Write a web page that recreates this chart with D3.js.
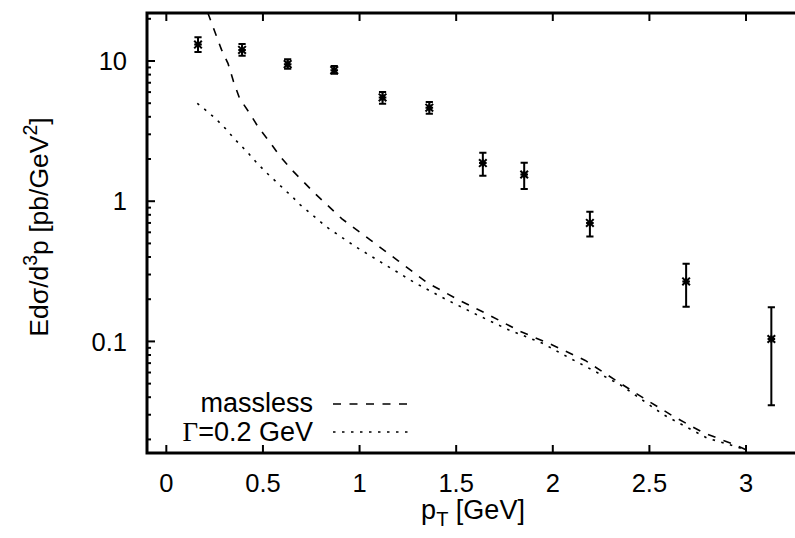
<!DOCTYPE html>
<html>
<head>
<meta charset="utf-8">
<script src="https://cdn.jsdelivr.net/npm/d3@7"></script>
<style>
	body{margin:0;background:#fff;}
	text{font-family:"Liberation Sans", Arial, sans-serif;fill:#000;}
</style>
</head>
<body>
<svg id="chart" width="795" height="538"></svg>
<script>
// measured points with error bars
let ptX = [0.164, 0.392, 0.628, 0.869, 1.119, 1.361, 1.638, 1.852, 2.192, 2.690, 3.131],
	ptY = [13.1, 12.0, 9.5, 8.6, 5.5, 4.65, 1.87, 1.55, 0.70, 0.268, 0.104],
	ptLo = [11.6, 10.9, 8.8, 8.1, 4.95, 4.2, 1.52, 1.22, 0.56, 0.177, 0.035],
	ptHi = [14.8, 13.2, 10.3, 9.2, 6.0, 5.1, 2.22, 1.88, 0.84, 0.358, 0.175];

// massless curve (dashed)
let masslessX = [0.150, 0.219, 0.285, 0.319, 0.348, 0.379, 0.431, 0.477, 0.534, 0.590, 0.650, 0.771, 0.909, 1.055, 1.200,
		1.349, 1.504, 1.667, 1.831, 1.995, 2.168, 2.314, 2.469, 2.624, 2.780, 2.952, 3.0],
	masslessY = [36.5, 21.3, 12.1, 9.63, 7.12, 5.42, 4.24, 3.35, 2.66, 2.08, 1.67, 1.128, 0.748, 0.530, 0.376,
		0.263, 0.2005, 0.155, 0.118, 0.0947, 0.0732, 0.054, 0.0395, 0.0292, 0.0223, 0.0181, 0.0169];

// Gamma = 0.2 GeV curve (dotted)
let widthX = [0.160, 0.202, 0.253, 0.305, 0.357, 0.417, 0.469, 0.521, 0.659, 0.693, 0.831, 0.978, 1.133, 1.288,
		1.444, 1.607, 1.771, 1.944, 2.055, 2.349, 2.573, 2.797, 2.969, 3.0],
	widthY = [4.99, 4.48, 3.91, 3.31, 2.74, 2.26, 1.87, 1.585, 1.051, 0.942, 0.653, 0.475, 0.352, 0.261,
		0.2005, 0.155, 0.121, 0.0974, 0.0804, 0.0491, 0.030, 0.0205, 0.0174, 0.0162];

let xTicks = [0, 0.5, 1, 1.5, 2, 2.5, 3],
	yTicks = [0.1, 1, 10],
	yTickLabels = ["0.1", "1", "10"];

let svg = d3.select("#chart"),
	plotL = 147, plotR = 804, plotT = 13, plotB = 453;

let x = d3.scaleLinear().domain([-0.1, 3.3]).range([plotL, plotR]),
	y = d3.scaleLog().domain([0.016, 22]).range([plotB, plotT]);

svg.append("defs").append("clipPath").attr("id", "plotClip")
	.append("rect").attr("x", plotL).attr("y", plotT).attr("width", plotR - plotL).attr("height", plotB - plotT);

// minor y ticks on log axis
let minorY = [];
[0.01, 0.1, 1, 10].forEach(function(d){
	for(let k = 2; k <= 9; k++){
		let v = d * k;
		if(v > 0.016 && v < 22) minorY.push(v);
	}
});

let ticks = svg.append("g").attr("stroke", "#000").attr("stroke-width", 2);
ticks.selectAll(".mx").data(xTicks).enter().append("line")
	.attr("x1", d => x(d)).attr("x2", d => x(d)).attr("y1", plotB).attr("y2", plotB - 8);
ticks.selectAll(".tx").data(xTicks).enter().append("line")
	.attr("x1", d => x(d)).attr("x2", d => x(d)).attr("y1", plotT).attr("y2", plotT + 8);
ticks.selectAll(".my").data(yTicks).enter().append("line")
	.attr("x1", plotL).attr("x2", plotL + 8).attr("y1", d => y(d)).attr("y2", d => y(d));
ticks.selectAll(".ny").data(minorY).enter().append("line")
	.attr("x1", plotL).attr("x2", plotL + 4).attr("y1", d => y(d)).attr("y2", d => y(d));

// frame
svg.append("rect").attr("x", plotL).attr("y", plotT).attr("width", plotR - plotL).attr("height", plotB - plotT)
	.attr("fill", "none").attr("stroke", "#000").attr("stroke-width", 3);

// tick labels
svg.selectAll(".xl").data(xTicks).enter().append("text")
	.attr("x", d => x(d)).attr("y", 492).attr("text-anchor", "middle")
	.style("font-size", "25.5px").text(d => d);
svg.selectAll(".yl").data(yTicks).enter().append("text")
	.attr("x", 127).attr("y", d => y(d)).attr("dy", "0.36em").attr("text-anchor", "end")
	.style("font-size", "25.5px").text((d, i) => yTickLabels[i]);

// axis titles
let xt = svg.append("text").attr("x", 473).attr("y", 519).attr("text-anchor", "middle").style("font-size", "27px");
xt.append("tspan").text("p");
xt.append("tspan").attr("dy", 7).style("font-size", "20px").text("T");
xt.append("tspan").attr("dy", -7).text(" [GeV]");

let yt = svg.append("text").attr("transform", "translate(48,227) rotate(-90)")
	.attr("text-anchor", "middle").style("font-size", "26.5px");
yt.append("tspan").text("Ed\u03c3/d");
yt.append("tspan").attr("dy", -11).style("font-size", "19.5px").text("3");
yt.append("tspan").attr("dy", 11).text("p [pb/GeV");
yt.append("tspan").attr("dy", -11).style("font-size", "19.5px").text("2");
yt.append("tspan").attr("dy", 11).text("]");

// curves
let line = d3.line().x(d => x(d[0])).y(d => y(d[1]));
let curves = svg.append("g").attr("clip-path", "url(#plotClip)");
curves.append("path").datum(d3.zip(masslessX, masslessY)).attr("d", line)
	.attr("fill", "none").attr("stroke", "#000").attr("stroke-width", 1.6).attr("stroke-dasharray", "8,8.5");
curves.append("path").datum(d3.zip(widthX, widthY)).attr("d", line)
	.attr("fill", "none").attr("stroke", "#000").attr("stroke-width", 1.6).attr("stroke-dasharray", "2.5,6.5");

// data points: error bars and star markers
let pts = d3.range(ptX.length).map(i => ({x: ptX[i], y: ptY[i], lo: ptLo[i], hi: ptHi[i]}));
let g = svg.append("g").attr("stroke", "#000").attr("stroke-width", 2);
g.selectAll(".eb").data(pts).enter().append("path")
	.attr("d", d => {
		let cx = x(d.x), c = 3.6;
		return "M" + cx + "," + y(d.lo) + "V" + y(d.hi)
			+ "M" + (cx - c) + "," + y(d.lo) + "H" + (cx + c)
			+ "M" + (cx - c) + "," + y(d.hi) + "H" + (cx + c);
	});
g.selectAll(".st").data(pts).enter().append("path")
	.attr("d", d => {
		let cx = x(d.x), cy = y(d.y), r = 3.8;
		return "M" + (cx - r) + "," + cy + "H" + (cx + r)
			+ "M" + cx + "," + (cy - r) + "V" + (cy + r)
			+ "M" + (cx - r) + "," + (cy - r) + "L" + (cx + r) + "," + (cy + r)
			+ "M" + (cx - r) + "," + (cy + r) + "L" + (cx + r) + "," + (cy - r);
	});

// legend
let legend = svg.append("g");
legend.append("text").attr("x", 313).attr("y", 412).attr("text-anchor", "end").style("font-size", "27px").text("massless");
let lt = legend.append("text").attr("x", 313).attr("y", 441).attr("text-anchor", "end").style("font-size", "27px");
lt.append("tspan").style("font-family", "'Liberation Serif', serif").text("\u0393");
lt.append("tspan").text("=0.2 GeV");
legend.append("line").attr("x1", 333).attr("x2", 408).attr("y1", 404).attr("y2", 404)
	.attr("stroke", "#000").attr("stroke-width", 1.6).attr("stroke-dasharray", "8,8.5");
legend.append("line").attr("x1", 333).attr("x2", 408).attr("y1", 432).attr("y2", 432)
	.attr("stroke", "#000").attr("stroke-width", 1.6).attr("stroke-dasharray", "2.5,6.5");
</script>
</body>
</html>
